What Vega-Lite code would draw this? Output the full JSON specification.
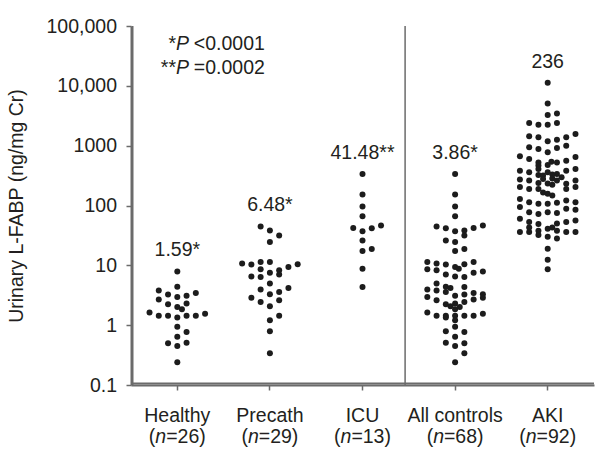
{
  "$schema": "https://vega.github.io/schema/vega-lite/v6.json",
  "width": 463,
  "height": 359,
  "autosize": "none",
  "padding": {"left": 131, "top": 26, "right": 7, "bottom": 70},
  "background": "white",
  "config": {
    "view": {"stroke": null},
    "font": "Liberation Sans",
    "axis": {
      "labelFont": "Liberation Sans", "titleFont": "Liberation Sans",
      "labelFontSize": 19.5, "titleFontSize": 19.5, "titleFontWeight": "normal",
      "labelColor": "#231f20", "titleColor": "#231f20",
      "domainColor": "#6b6b6b", "tickColor": "#6b6b6b",
      "domainWidth": 2, "tickWidth": 1.5, "tickSize": 5, "grid": false
    }
  },
  "datasets": {
    "dots": [
      {"group":"Healthy","value":7.9,"col":0},{"group":"Healthy","value":4.4,"col":0},{"group":"Healthy","value":3.79,"col":-2},{"group":"Healthy","value":3.25,"col":-1},{"group":"Healthy","value":2.96,"col":0},{"group":"Healthy","value":3.1,"col":1},{"group":"Healthy","value":3.46,"col":2},{"group":"Healthy","value":2.68,"col":-2},{"group":"Healthy","value":2.24,"col":-1},{"group":"Healthy","value":2.02,"col":0},{"group":"Healthy","value":1.85,"col":0.5},{"group":"Healthy","value":2.3,"col":1},{"group":"Healthy","value":1.63,"col":-3},{"group":"Healthy","value":1.43,"col":-2},{"group":"Healthy","value":1.43,"col":-1},{"group":"Healthy","value":1.34,"col":0},{"group":"Healthy","value":1.43,"col":1},{"group":"Healthy","value":1.43,"col":2},{"group":"Healthy","value":1.55,"col":3},{"group":"Healthy","value":0.94,"col":0},{"group":"Healthy","value":0.77,"col":1},{"group":"Healthy","value":0.64,"col":0},{"group":"Healthy","value":0.5,"col":-1},{"group":"Healthy","value":0.45,"col":0},{"group":"Healthy","value":0.51,"col":1},{"group":"Healthy","value":0.24,"col":0},
      {"group":"Precath","value":44.7,"col":-1},{"group":"Precath","value":38.3,"col":0},{"group":"Precath","value":31.6,"col":1},{"group":"Precath","value":24.5,"col":0},{"group":"Precath","value":10.7,"col":-3},{"group":"Precath","value":10.3,"col":-2},{"group":"Precath","value":11.4,"col":-1},{"group":"Precath","value":11.4,"col":0},{"group":"Precath","value":9.35,"col":2},{"group":"Precath","value":10.4,"col":3},{"group":"Precath","value":8.6,"col":-1},{"group":"Precath","value":7.55,"col":0},{"group":"Precath","value":8.25,"col":1},{"group":"Precath","value":7.0,"col":1},{"group":"Precath","value":6.48,"col":-2},{"group":"Precath","value":6.4,"col":-1},{"group":"Precath","value":4.95,"col":0},{"group":"Precath","value":3.93,"col":-1},{"group":"Precath","value":3.29,"col":0},{"group":"Precath","value":3.6,"col":1},{"group":"Precath","value":4.19,"col":2},{"group":"Precath","value":2.86,"col":-2},{"group":"Precath","value":2.45,"col":-1},{"group":"Precath","value":2.07,"col":0},{"group":"Precath","value":2.61,"col":1},{"group":"Precath","value":1.21,"col":0},{"group":"Precath","value":1.43,"col":1},{"group":"Precath","value":0.79,"col":0},{"group":"Precath","value":0.34,"col":0},
      {"group":"ICU","value":337,"col":0},{"group":"ICU","value":152,"col":0},{"group":"ICU","value":96,"col":0},{"group":"ICU","value":66,"col":0},{"group":"ICU","value":41.9,"col":-1},{"group":"ICU","value":37.3,"col":0},{"group":"ICU","value":41.48,"col":1},{"group":"ICU","value":46.4,"col":2},{"group":"ICU","value":26.1,"col":0},{"group":"ICU","value":17.3,"col":0},{"group":"ICU","value":18.7,"col":1},{"group":"ICU","value":8.8,"col":0},{"group":"ICU","value":4.35,"col":0},
      {"group":"All controls","value":337,"col":0},{"group":"All controls","value":152,"col":0},{"group":"All controls","value":96,"col":0},{"group":"All controls","value":66,"col":0},
      {"group":"All controls","value":46.4,"col":3},{"group":"All controls","value":44.7,"col":-2},{"group":"All controls","value":41.9,"col":2},{"group":"All controls","value":41.48,"col":-1},{"group":"All controls","value":38.3,"col":1},{"group":"All controls","value":37.3,"col":0},{"group":"All controls","value":31.6,"col":1},{"group":"All controls","value":26.1,"col":-1},{"group":"All controls","value":24.5,"col":0},{"group":"All controls","value":18.7,"col":1},{"group":"All controls","value":17.3,"col":0},
      {"group":"All controls","value":11.4,"col":-3},{"group":"All controls","value":10.7,"col":-2},{"group":"All controls","value":10.3,"col":-1},{"group":"All controls","value":9.35,"col":0},{"group":"All controls","value":8.8,"col":0.4},{"group":"All controls","value":10.4,"col":1},{"group":"All controls","value":11.4,"col":2},
      {"group":"All controls","value":8.6,"col":-3},{"group":"All controls","value":8.25,"col":-2},{"group":"All controls","value":7.0,"col":-1},{"group":"All controls","value":6.48,"col":0},{"group":"All controls","value":6.4,"col":1},{"group":"All controls","value":7.55,"col":2},{"group":"All controls","value":7.9,"col":3},
      {"group":"All controls","value":4.95,"col":-2},{"group":"All controls","value":4.4,"col":-1},{"group":"All controls","value":4.19,"col":-0.5},{"group":"All controls","value":4.35,"col":1},
      {"group":"All controls","value":3.93,"col":-3},{"group":"All controls","value":3.79,"col":-2},{"group":"All controls","value":3.6,"col":-1},{"group":"All controls","value":3.1,"col":0},{"group":"All controls","value":3.25,"col":1},{"group":"All controls","value":3.46,"col":2},{"group":"All controls","value":3.29,"col":3},
      {"group":"All controls","value":2.96,"col":-3},{"group":"All controls","value":2.61,"col":-2},{"group":"All controls","value":2.3,"col":0},{"group":"All controls","value":2.45,"col":1},{"group":"All controls","value":2.68,"col":2},{"group":"All controls","value":2.86,"col":3},
      {"group":"All controls","value":2.24,"col":-1},{"group":"All controls","value":2.07,"col":-0.5},{"group":"All controls","value":2.02,"col":0.5},{"group":"All controls","value":1.85,"col":0},
      {"group":"All controls","value":1.63,"col":-3},{"group":"All controls","value":1.43,"col":-2},{"group":"All controls","value":1.43,"col":-1},{"group":"All controls","value":1.34,"col":-1},{"group":"All controls","value":1.43,"col":0},{"group":"All controls","value":1.21,"col":0},{"group":"All controls","value":1.43,"col":1},{"group":"All controls","value":1.43,"col":2},{"group":"All controls","value":1.55,"col":3},
      {"group":"All controls","value":0.94,"col":0},{"group":"All controls","value":0.79,"col":-1},{"group":"All controls","value":0.77,"col":1},{"group":"All controls","value":0.64,"col":0},{"group":"All controls","value":0.51,"col":-1},{"group":"All controls","value":0.5,"col":1},{"group":"All controls","value":0.45,"col":0},{"group":"All controls","value":0.34,"col":1},{"group":"All controls","value":0.24,"col":0},
      {"group":"AKI","value":11220,"col":0},{"group":"AKI","value":5070,"col":0},{"group":"AKI","value":3240,"col":0},{"group":"AKI","value":3460,"col":1},
      {"group":"AKI","value":2390,"col":-2},{"group":"AKI","value":2390,"col":1},{"group":"AKI","value":2240,"col":-1},{"group":"AKI","value":2240,"col":0},
      {"group":"AKI","value":1430,"col":-2},{"group":"AKI","value":1380,"col":-1},{"group":"AKI","value":1380,"col":2},{"group":"AKI","value":1180,"col":0},{"group":"AKI","value":1260,"col":1},{"group":"AKI","value":1570,"col":3},
      {"group":"AKI","value":940,"col":-2},{"group":"AKI","value":880,"col":-1},{"group":"AKI","value":775,"col":0},{"group":"AKI","value":915,"col":1},{"group":"AKI","value":1000,"col":2},
      {"group":"AKI","value":667,"col":-3},{"group":"AKI","value":600,"col":-2},{"group":"AKI","value":525,"col":-1},{"group":"AKI","value":477,"col":0},{"group":"AKI","value":540,"col":0.4},{"group":"AKI","value":525,"col":1},{"group":"AKI","value":560,"col":2},{"group":"AKI","value":646,"col":3},{"group":"AKI","value":464,"col":-1},
      {"group":"AKI","value":381,"col":-3},{"group":"AKI","value":359,"col":-2},{"group":"AKI","value":408,"col":-1},{"group":"AKI","value":324,"col":-1},{"group":"AKI","value":316,"col":-0.5},{"group":"AKI","value":359,"col":0},{"group":"AKI","value":336,"col":1},{"group":"AKI","value":381,"col":2},{"group":"AKI","value":408,"col":3},{"group":"AKI","value":330,"col":0.5},
      {"group":"AKI","value":271,"col":-3},{"group":"AKI","value":203,"col":-3},{"group":"AKI","value":261,"col":-2},{"group":"AKI","value":189,"col":-2},{"group":"AKI","value":238,"col":-1},{"group":"AKI","value":189,"col":-1},{"group":"AKI","value":277,"col":-0.5},{"group":"AKI","value":284,"col":0.5},{"group":"AKI","value":261,"col":1},{"group":"AKI","value":296,"col":1.5},{"group":"AKI","value":230,"col":2},{"group":"AKI","value":189,"col":2},{"group":"AKI","value":261,"col":3},{"group":"AKI","value":203,"col":3},{"group":"AKI","value":234,"col":0},{"group":"AKI","value":222,"col":0.5},
      {"group":"AKI","value":157,"col":0},{"group":"AKI","value":147,"col":0.5},{"group":"AKI","value":165,"col":-0.5},
      {"group":"AKI","value":129,"col":-3},{"group":"AKI","value":94,"col":-3},{"group":"AKI","value":113,"col":-2},{"group":"AKI","value":77,"col":-2},{"group":"AKI","value":107,"col":-1},{"group":"AKI","value":72,"col":-1},{"group":"AKI","value":107,"col":0},{"group":"AKI","value":77,"col":0},{"group":"AKI","value":111,"col":1},{"group":"AKI","value":75,"col":1},{"group":"AKI","value":121,"col":2},{"group":"AKI","value":88,"col":2},{"group":"AKI","value":113,"col":3},{"group":"AKI","value":85,"col":3},
      {"group":"AKI","value":60,"col":-3},{"group":"AKI","value":36,"col":-3},{"group":"AKI","value":53,"col":-2},{"group":"AKI","value":43,"col":-2},{"group":"AKI","value":36,"col":-2},{"group":"AKI","value":49,"col":-1},{"group":"AKI","value":38,"col":-1},{"group":"AKI","value":32,"col":-1},{"group":"AKI","value":41,"col":0},{"group":"AKI","value":30,"col":0},{"group":"AKI","value":43,"col":0.5},{"group":"AKI","value":38,"col":1},{"group":"AKI","value":50,"col":1},{"group":"AKI","value":53,"col":2},{"group":"AKI","value":36,"col":2},{"group":"AKI","value":56,"col":3},{"group":"AKI","value":36,"col":3},{"group":"AKI","value":28,"col":1},
      {"group":"AKI","value":19,"col":0},{"group":"AKI","value":12.4,"col":0},{"group":"AKI","value":8.6,"col":0}
    ],
    "notes": [
      {"group":"Healthy","note":"1.59*"},
      {"group":"Precath","note":"6.48*"},
      {"group":"ICU","note":"41.48**"},
      {"group":"All controls","note":"3.86*"},
      {"group":"AKI","note":"236"}
    ]
  },
  "layer": [
    {
      "data": {"values": [{}]},
      "mark": {"type": "rule", "color": "#6b6b6b", "strokeWidth": 2, "xOffset": 1.5},
      "encoding": {
        "x": {"datum": "Healthy", "type": "nominal", "bandPosition": 0}
      }
    },
    {
      "data": {"values": [{}]},
      "mark": {"type": "rule", "color": "#6b6b6b", "strokeWidth": 2, "yOffset": -1.5},
      "encoding": {
        "y": {"datum": 0.1, "type": "quantitative"}
      }
    },
    {
      "data": {"values": [{}]},
      "mark": {"type": "rule", "color": "#6b6b6b", "strokeWidth": 1.5, "xOffset": -3.7},
      "encoding": {
        "x": {"datum": "All controls", "type": "nominal", "bandPosition": 0}
      }
    },
    {
      "data": {"name": "dots"},
      "mark": {"type": "circle", "size": 36, "color": "#1c1c1c", "opacity": 1},
      "encoding": {
        "x": {
          "field": "group", "type": "nominal", "title": null,
          "scale": {"domain": ["Healthy", "Precath", "ICU", "All controls", "AKI"], "paddingInner": 0, "paddingOuter": 0},
          "axis": {"labelAngle": 0, "labelAlign": "center", "labelPadding": 16, "labelOverlap": false, "labelBaseline": "top", "domain": true, "ticks": true}
        },
        "xOffset": {"field": "col", "type": "quantitative", "scale": {"domain": [-5, 5]}},
        "y": {
          "field": "value", "type": "quantitative", "title": "Urinary L-FABP (ng/mg Cr)",
          "scale": {"type": "log", "domain": [0.1, 100000]},
          "axis": {
            "values": [0.1, 1, 10, 100, 1000, 10000, 100000],
            "labelExpr": "datum.value >= 10000 ? format(datum.value, ',.0f') : format(datum.value, '~g')",
            "labelPadding": 9.5, "titlePadding": 20, "domain": true, "ticks": true
          }
        }
      }
    },
    {
      "data": {"name": "dots"},
      "transform": [
        {"aggregate": [{"op": "max", "field": "value", "as": "top"}], "groupby": ["group"]},
        {"lookup": "group", "from": {"data": {"name": "notes"}, "key": "group", "fields": ["note"]}}
      ],
      "mark": {"type": "text", "fontSize": 19.5, "dy": -15, "baseline": "alphabetic", "color": "#231f20", "font": "Liberation Sans"},
      "encoding": {
        "x": {"field": "group", "type": "nominal", "title": null},
        "y": {"field": "top", "type": "quantitative", "title": "Urinary L-FABP (ng/mg Cr)"},
        "text": {"field": "note"}
      }
    },
    {
      "data": {"name": "dots"},
      "transform": [
        {"aggregate": [{"op": "count", "as": "n"}], "groupby": ["group"]}
      ],
      "encoding": {
        "x": {"field": "group", "type": "nominal", "title": null},
        "y": {"datum": 0.1, "type": "quantitative"}
      },
      "layer": [
        {"mark": {"type": "text", "text": "(", "align": "left", "baseline": "alphabetic", "dx": -28.45, "dy": 57.7, "fontSize": 19.5, "color": "#231f20", "font": "Liberation Sans"}},
        {"mark": {"type": "text", "text": "n", "align": "left", "baseline": "alphabetic", "dx": -21.96, "dy": 57.7, "fontSize": 19.5, "fontStyle": "italic", "color": "#231f20", "font": "Liberation Sans"}},
        {"mark": {"type": "text", "text": "=", "align": "left", "baseline": "alphabetic", "dx": -11.12, "dy": 57.7, "fontSize": 19.5, "color": "#231f20", "font": "Liberation Sans"}},
        {"mark": {"type": "text", "align": "left", "baseline": "alphabetic", "dx": 0.27, "dy": 57.7, "fontSize": 19.5, "color": "#231f20", "font": "Liberation Sans"}, "encoding": {"text": {"field": "n", "type": "quantitative"}}},
        {"mark": {"type": "text", "text": ")", "align": "left", "baseline": "alphabetic", "dx": 21.95, "dy": 57.7, "fontSize": 19.5, "color": "#231f20", "font": "Liberation Sans"}}
      ]
    },
    {
      "data": {"values": [{}]},
      "encoding": {
        "x": {"datum": "Healthy", "type": "nominal", "bandPosition": 0.5},
        "y": {"datum": 40000, "type": "quantitative"}
      },
      "layer": [
        {"mark": {"type": "text", "text": ["*", "**"], "align": "right", "baseline": "alphabetic", "dx": -1.3, "lineHeight": 24, "fontSize": 19.5, "color": "#231f20", "font": "Liberation Sans"}},
        {"mark": {"type": "text", "text": ["P", "P"], "align": "left", "baseline": "alphabetic", "dx": -1.3, "lineHeight": 24, "fontSize": 19.5, "fontStyle": "italic", "color": "#231f20", "font": "Liberation Sans"}},
        {"mark": {"type": "text", "text": ["<0.0001", "=0.0002"], "align": "left", "baseline": "alphabetic", "dx": 16.5, "lineHeight": 24, "fontSize": 19.5, "color": "#231f20", "font": "Liberation Sans"}}
      ]
    }
  ]
}
